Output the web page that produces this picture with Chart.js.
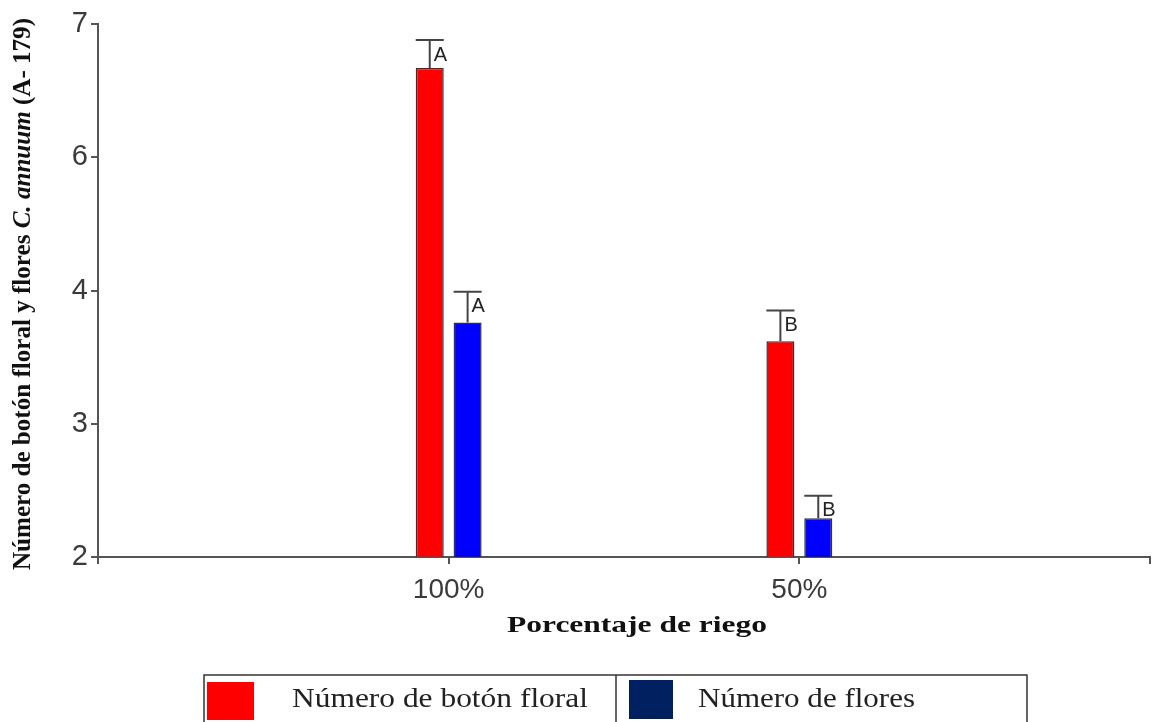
<!DOCTYPE html>
<html>
<head>
<meta charset="utf-8">
<script src="https://cdn.jsdelivr.net/npm/chart.js@4.4.0/dist/chart.umd.min.js"></script>
<style>
  body { margin: 0; background: #fff; }
  #wrap { width: 1153px; height: 722px; position: relative; }
</style>
</head>
<body>
<div id="wrap"><canvas id="myChart"></canvas></div>
<script>
// data
const categorias = ['', '100%', '50%', ''];
const botonFloral = [null, 6.67, 3.62, null];
const botonFloralErr = [null, 0.21, 0.23, null];
const botonFloralLetras = [null, 'A', 'B', null];
const flores = [null, 3.76, 2.29, null];
const floresErr = [null, 0.23, 0.17, null];
const floresLetras = [null, 'A', 'B', null];
// axis is broken between 4 and 6 (5 is skipped)
const yTicks = [2, 3, 4, 6, 7];

// real value -> position on the broken axis
function pos(v) {
    if (v === null) return null;
    return v > 5 ? v - 1 : v;
}

const errores = [botonFloralErr, floresErr];
const letras = [botonFloralLetras, floresLetras];
const valores = [botonFloral, flores];

// draw text squeezed/stretched to a given width
function textoAncho(ctx, txt, x, y, ancho, align) {
    const w = ctx.measureText(txt).width;
    ctx.save();
    ctx.translate(x, y);
    ctx.scale(ancho / w, 1);
    ctx.textAlign = align;
    ctx.fillText(txt, 0, 0);
    ctx.restore();
}

// error bars + letters
const errorBars = {
    id: 'errorBars',
    afterDatasetsDraw(chart) {
        const ctx = chart.ctx;
        const y = chart.scales.y;
        ctx.save();
        chart.data.datasets.forEach((ds, i) => {
            const meta = chart.getDatasetMeta(i);
            meta.data.forEach((bar, j) => {
                if (valores[i][j] === null) return;
                const top = y.getPixelForValue(pos(valores[i][j] + errores[i][j]));
                const half = bar.width / 2;
                ctx.strokeStyle = '#444';
                ctx.lineWidth = 2;
                ctx.beginPath();
                ctx.moveTo(bar.x, bar.y);
                ctx.lineTo(bar.x, top);
                ctx.moveTo(bar.x - half, top);
                ctx.lineTo(bar.x + half, top);
                ctx.stroke();
                ctx.fillStyle = '#222';
                ctx.font = '20px "Liberation Sans", Arial';
                ctx.textAlign = 'left';
                ctx.textBaseline = 'middle';
                ctx.fillText(letras[i][j], bar.x + 4, top + 15);
            });
        });
        ctx.restore();
    }
};

// axis titles and the boxed legend at the bottom
const extras = {
    id: 'extras',
    afterDraw(chart) {
        const ctx = chart.ctx;
        ctx.save();

        // y title, rotated, with italic species name
        const f = '"Liberation Serif", "Times New Roman"';
        const partes = [
            ['bold 25px ' + f, 'Número de botón floral y flores '],
            ['italic bold 25px ' + f, 'C. annuum'],
            ['bold 25px ' + f, ' (A- 179)']
        ];
        let total = 0;
        partes.forEach(p => { ctx.font = p[0]; total += ctx.measureText(p[1]).width; });
        const largo = 552;
        ctx.translate(24, 294);
        ctx.rotate(-Math.PI / 2);
        ctx.scale(largo / total, 1);
        ctx.fillStyle = '#111';
        ctx.textBaseline = 'middle';
        ctx.textAlign = 'left';
        let x = -total / 2;
        partes.forEach(p => {
            ctx.font = p[0];
            ctx.fillText(p[1], x, 0);
            x += ctx.measureText(p[1]).width;
        });
        ctx.setTransform(1, 0, 0, 1, 0, 0);

        // x title
        ctx.font = 'bold 24px ' + f;
        ctx.textBaseline = 'middle';
        textoAncho(ctx, 'Porcentaje de riego', 637, 626, 260, 'center');

        // legend box
        ctx.strokeStyle = '#333';
        ctx.lineWidth = 1.5;
        ctx.strokeRect(204, 675, 1027 - 204, 60);
        ctx.beginPath();
        ctx.moveTo(616, 675);
        ctx.lineTo(616, 722);
        ctx.stroke();
        ctx.fillStyle = '#ff0000';
        ctx.fillRect(207, 682, 47, 38);
        ctx.fillStyle = '#002060';
        ctx.fillRect(629, 680, 44, 39);
        ctx.fillStyle = '#222';
        ctx.font = '27px ' + f;
        ctx.textBaseline = 'middle';
        textoAncho(ctx, 'Número de botón floral', 292, 700, 296, 'left');
        textoAncho(ctx, 'Número de flores', 698, 700, 217, 'left');
        ctx.restore();
    }
};

var ctx = document.getElementById('myChart').getContext('2d');
var chart = new Chart(ctx, {
    type: 'bar',
    data: {
        labels: categorias,
        datasets: [{
            label: 'Número de botón floral',
            data: botonFloral.map(pos),
            backgroundColor: '#ff0000',
            borderColor: '#333',
            borderWidth: 1.5,
            borderSkipped: 'bottom',
            barPercentage: 0.74,
            categoryPercentage: 0.216
        }, {
            label: 'Número de flores',
            data: flores.map(pos),
            backgroundColor: '#0000ff',
            borderColor: '#333',
            borderWidth: 1.5,
            borderSkipped: 'bottom',
            barPercentage: 0.74,
            categoryPercentage: 0.216
        }]
    },
    options: {
        responsive: true,
        maintainAspectRatio: false,
        animation: false,
        layout: { padding: { top: 24, right: 3, left: 0, bottom: 0 } },
        plugins: {
            legend: { display: false },
            tooltip: { enabled: false }
        },
        scales: {
            x: {
                type: 'category',
                offset: false,
                grid: {
                    offset: false,
                    drawOnChartArea: false,
                    drawTicks: true,
                    tickLength: 7,
                    color: '#555',
                    lineWidth: 2
                },
                border: { color: '#555', width: 2 },
                ticks: {
                    color: '#3a3a3a',
                    font: { family: '"Liberation Sans", Arial', size: 28 },
                    padding: 9,
                    maxRotation: 0,
                    autoSkip: false
                },
                afterFit(scale) {
                    scale.height = 722 - 557;
                    scale.paddingLeft = 0;
                    scale.paddingRight = 0;
                }
            },
            y: {
                min: 2,
                max: 6,
                grid: {
                    drawOnChartArea: false,
                    drawTicks: true,
                    tickLength: 7,
                    color: '#555',
                    lineWidth: 2
                },
                border: { color: '#555', width: 2 },
                ticks: {
                    stepSize: 1,
                    color: '#3a3a3a',
                    font: { family: '"Liberation Sans", Arial', size: 29 },
                    padding: 3,
                    callback: (v) => yTicks[v - 2]
                },
                afterFit(scale) { scale.width = 98; }
            }
        }
    },
    plugins: [errorBars, extras]
});
</script>
</body>
</html>
